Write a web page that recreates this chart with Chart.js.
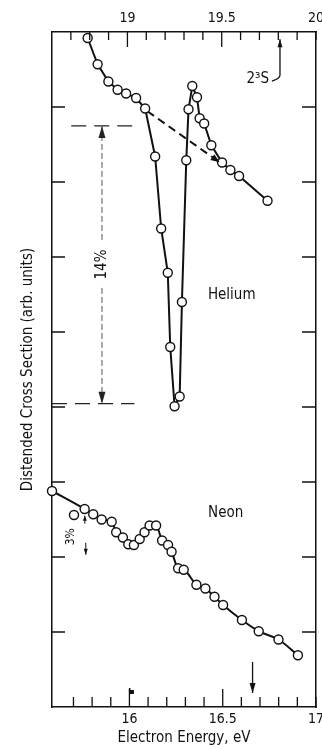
<!DOCTYPE html>
<html>
<head>
<meta charset="utf-8">
<script src="https://cdn.jsdelivr.net/npm/chart.js@4/dist/chart.umd.min.js"></script>
<style>
  html, body { margin: 0; padding: 0; background: #fff; }
  #wrap { width: 322px; height: 749px; }
</style>
</head>
<body>
<div id="wrap"><canvas id="chart" width="322" height="749"></canvas></div>
<script>
// helium
const heliumEnergy = [18.789, 18.842, 18.899, 18.948, 18.993, 19.046, 19.094, 19.147, 19.179, 19.214, 19.227, 19.250, 19.277, 19.289, 19.312, 19.324, 19.344, 19.369, 19.383, 19.407, 19.445, 19.502, 19.546, 19.592, 19.743];
const heliumSignal = [8.92, 8.57, 8.34, 8.23, 8.18, 8.12, 7.98, 7.34, 6.38, 5.79, 4.80, 4.01, 4.14, 5.40, 7.29, 7.97, 8.28, 8.13, 7.85, 7.78, 7.49, 7.26, 7.16, 7.08, 6.75];
// dashed background under the helium dip
const heliumBaseEnergy = [19.106, 19.489];
const heliumBaseSignal = [7.944, 7.263];

// neon
const neonEnergy = [15.585, 15.760, 15.806, 15.851, 15.905, 15.929, 15.965, 15.994, 16.024, 16.055, 16.081, 16.108, 16.143, 16.175, 16.207, 16.226, 16.261, 16.291, 16.359, 16.407, 16.456, 16.502, 16.603, 16.693, 16.799, 16.903];
const neonSignal = [2.88, 2.64, 2.57, 2.50, 2.47, 2.33, 2.26, 2.17, 2.16, 2.24, 2.33, 2.42, 2.42, 2.22, 2.16, 2.07, 1.85, 1.83, 1.63, 1.58, 1.47, 1.36, 1.16, 1.01, 0.90, 0.69];
const neonStrayEnergy = [15.703];
const neonStraySignal = [2.56];

// ticks
const topTickValues = [18.7, 18.8, 18.9, 19.0, 19.1, 19.2, 19.3, 19.4, 19.5, 19.6, 19.7, 19.8, 19.9, 20.0];
const topLabelValues = [19, 19.5, 20];
const topLabels = ['19', '19.5', '20'];
const bottomTickValues = [15.7, 15.8, 15.9, 16.0, 16.1, 16.2, 16.3, 16.4, 16.5, 16.6, 16.7, 16.8, 16.9, 17.0];
const bottomLabelValues = [16, 16.5, 17];
const bottomLabels = ['16', '16.5', '17'];
const yTickValues = [1, 2, 3, 4, 5, 6, 7, 8];

const ink = '#111';
const FONT = "'Liberation Sans Narrow', 'DejaVu Sans Condensed', 'Arial Narrow', sans-serif";
Chart.defaults.font.family = FONT;
Chart.defaults.color = ink;

function labelFor(values, labels, v) {
  const i = values.findIndex(t => Math.abs(t - v) < 1e-6);
  return i < 0 ? '' : labels[i];
}
function pts(xs, ys) {
  return xs.map((x, i) => ({ x: x, y: ys[i] }));
}

function head(ctx, x0, y0, x1, y1, len, w) {
  const a = Math.atan2(y1 - y0, x1 - x0);
  ctx.beginPath();
  ctx.moveTo(x1, y1);
  ctx.lineTo(x1 - len * Math.cos(a) + w * Math.sin(a), y1 - len * Math.sin(a) - w * Math.cos(a));
  ctx.lineTo(x1 - len * Math.cos(a) - w * Math.sin(a), y1 - len * Math.sin(a) + w * Math.cos(a));
  ctx.closePath();
  ctx.fill();
}

// inward tick marks on all four sides
const tickPlugin = {
  id: 'inwardTicks',
  afterDraw(chart) {
    const { ctx, chartArea: a, scales } = chart;
    ctx.save();
    ctx.strokeStyle = ink;
    ctx.lineWidth = 1.3;
    ctx.beginPath();
    bottomTickValues.forEach(v => {
      const x = scales.x.getPixelForValue(v);
      const len = (v === 16 || v === 16.5) ? 18 : 10;
      ctx.moveTo(x, a.bottom); ctx.lineTo(x, a.bottom - len);
    });
    topTickValues.forEach(v => {
      const x = scales.x2.getPixelForValue(v);
      const len = (v === 19 || v === 19.5) ? 15 : 8;
      ctx.moveTo(x, a.top); ctx.lineTo(x, a.top + len);
    });
    yTickValues.forEach(v => {
      const y = scales.y.getPixelForValue(v);
      ctx.moveTo(a.left, y); ctx.lineTo(a.left + 13, y);
      ctx.moveTo(a.right, y); ctx.lineTo(a.right - 14, y);
    });
    ctx.stroke();
    ctx.restore();
  }
};

// notes drawn in data coordinates
const notePlugin = {
  id: 'notes',
  beforeDatasetsDraw(chart) {
    const { ctx, scales } = chart;
    const P = (ax, xv, yv) => [scales[ax].getPixelForValue(xv), scales.y.getPixelForValue(yv)];
    ctx.save();
    ctx.strokeStyle = '#222';
    ctx.fillStyle = '#222';

    // 14% bracket
    ctx.lineWidth = 1.2;
    ctx.setLineDash([15, 8]);
    let p = P('x2', 18.702, 7.748), q = P('x2', 19.037, 7.748);
    ctx.beginPath(); ctx.moveTo(p[0], p[1]); ctx.lineTo(q[0], q[1]); ctx.stroke();
    p = P('x2', 18.6, 4.045); q = P('x2', 19.037, 4.045);
    ctx.beginPath(); ctx.moveTo(p[0], p[1]); ctx.lineTo(q[0], q[1]); ctx.stroke();
    const vt = P('x2', 18.865, 7.748), vb = P('x2', 18.865, 4.045);
    ctx.strokeStyle = '#555';
    ctx.lineWidth = 1;
    ctx.setLineDash([6, 3]);
    ctx.beginPath(); ctx.moveTo(vt[0], vt[1]); ctx.lineTo(vb[0], vb[1]); ctx.stroke();
    ctx.setLineDash([]);
    head(ctx, vt[0], vt[1] + 20, vt[0], vt[1], 12, 3.5);
    head(ctx, vb[0], vb[1] - 20, vb[0], vb[1], 12, 3.5);
    const tp = P('x2', 18.865, 5.90);
    ctx.fillStyle = '#fff';
    ctx.fillRect(tp[0] - 6, tp[1] - 22, 12, 44);
    ctx.fillStyle = ink;
    ctx.font = '15px ' + FONT;
    ctx.textAlign = 'center';
    ctx.textBaseline = 'middle';
    ctx.save();
    ctx.translate(tp[0], tp[1]);
    ctx.rotate(-Math.PI / 2);
    ctx.fillText('14%', 0, 0);
    ctx.restore();

    // labels
    p = P('x2', 19.553, 5.487); ctx.fillText('Helium', p[0], p[1]);
    p = P('x', 16.516, 2.59); ctx.fillText('Neon', p[0], p[1]);
    p = P('x2', 19.691, 8.371); ctx.fillText('2³S', p[0], p[1]);

    // 2³S hooked arrow
    ctx.strokeStyle = ink;
    ctx.lineWidth = 1.3;
    const h0 = P('x2', 19.766, 8.344), h1 = P('x2', 19.809, 8.425), h2 = P('x2', 19.809, 8.905);
    ctx.beginPath();
    ctx.moveTo(h0[0], h0[1]);
    ctx.quadraticCurveTo(h1[0], h1[1] + 3, h1[0], h1[1]);
    ctx.lineTo(h2[0], h2[1]);
    ctx.stroke();
    head(ctx, h2[0], h2[1] + 10, h2[0], h2[1], 8, 2.5);

    // neon 3% marks
    p = P('x', 15.687, 2.27);
    ctx.save();
    ctx.font = '12px ' + FONT;
    ctx.translate(p[0], p[1]);
    ctx.rotate(-Math.PI / 2);
    ctx.fillText('3%', 0, 0);
    ctx.restore();
    ctx.lineWidth = 1;
    let a0 = P('x', 15.761, 2.443), a1 = P('x', 15.761, 2.55);
    ctx.beginPath(); ctx.moveTo(a0[0], a0[1]); ctx.lineTo(a1[0], a1[1]); ctx.stroke();
    head(ctx, a0[0], a0[1], a1[0], a1[1], 5, 2);
    a0 = P('x', 15.766, 2.19); a1 = P('x', 15.766, 2.03);
    ctx.beginPath(); ctx.moveTo(a0[0], a0[1]); ctx.lineTo(a1[0], a1[1]); ctx.stroke();
    head(ctx, a0[0], a0[1], a1[0], a1[1], 6, 2);

    // neon threshold arrow and small flag
    ctx.lineWidth = 1.3;
    a0 = P('x', 16.66, 0.601); a1 = P('x', 16.66, 0.187);
    ctx.beginPath(); ctx.moveTo(a0[0], a0[1]); ctx.lineTo(a1[0], a1[1]); ctx.stroke();
    head(ctx, a0[0], a0[1], a1[0], a1[1], 10, 3);
    p = P('x', 16.008, 0.2);
    ctx.fillRect(p[0] - 1, p[1] - 2, 4, 4);
    ctx.fillRect(p[0] - 2, p[1] - 4, 1.5, 4);

    ctx.restore();
  },
  afterDatasetsDraw(chart) {
    // arrow head at the end of the dashed helium background
    const meta = chart.getDatasetMeta(0);
    const n = meta.data.length;
    if (n < 2) return;
    const a = meta.data[n - 2], b = meta.data[n - 1];
    chart.ctx.save();
    chart.ctx.fillStyle = ink;
    head(chart.ctx, a.x, a.y, b.x, b.y, 9, 3.5);
    chart.ctx.restore();
  }
};

const circle = {
  pointRadius: 4.5,
  pointBackgroundColor: '#fff',
  pointBorderColor: ink,
  pointBorderWidth: 1.4
};

new Chart(document.getElementById('chart'), {
  type: 'line',
  data: {
    datasets: [
      {
        data: pts(heliumBaseEnergy, heliumBaseSignal),
        xAxisID: 'x2', yAxisID: 'y',
        borderColor: ink, borderWidth: 2, borderDash: [8, 5],
        pointRadius: 0, order: 2, clip: false
      },
      Object.assign({
        data: pts(heliumEnergy, heliumSignal),
        xAxisID: 'x2', yAxisID: 'y',
        borderColor: ink, borderWidth: 2, tension: 0, order: 0, clip: false
      }, circle),
      Object.assign({
        data: pts(neonEnergy, neonSignal),
        xAxisID: 'x', yAxisID: 'y',
        borderColor: ink, borderWidth: 2, cubicInterpolationMode: 'monotone', order: 0, clip: false
      }, circle),
      Object.assign({
        data: pts(neonStrayEnergy, neonStraySignal),
        xAxisID: 'x', yAxisID: 'y',
        showLine: false, order: 0, clip: false
      }, circle)
    ]
  },
  options: {
    responsive: false,
    animation: false,
    events: [],
    layout: { padding: 0 },
    plugins: { legend: { display: false }, tooltip: { enabled: false } },
    scales: {
      x: {
        type: 'linear', position: 'bottom', min: 15.585, max: 17.0,
        afterBuildTicks: s => { s.ticks = bottomTickValues.map(v => ({ value: v })); },
        afterFit: s => { s.height = 42; s.paddingLeft = 0; s.paddingRight = 0; },
        ticks: { autoSkip: false, maxRotation: 0, padding: 4, font: { size: 14 }, color: ink,
                 callback: v => labelFor(bottomLabelValues, bottomLabels, v) },
        grid: { display: true, drawOnChartArea: false, drawTicks: false },
        border: { display: true, color: ink, width: 1.5 },
        title: { display: true, text: 'Electron Energy, eV', font: { size: 15 }, color: ink, padding: { top: 0, bottom: 2 } }
      },
      x2: {
        type: 'linear', position: 'top', min: 18.6, max: 20.0,
        afterBuildTicks: s => { s.ticks = topTickValues.map(v => ({ value: v })); },
        afterFit: s => { s.height = 32; s.paddingLeft = 0; s.paddingRight = 0; },
        ticks: { autoSkip: false, maxRotation: 0, padding: 5, font: { size: 14 }, color: ink,
                 callback: v => labelFor(topLabelValues, topLabels, v) },
        grid: { display: true, drawOnChartArea: false, drawTicks: false },
        border: { display: true, color: ink, width: 1.5 }
      },
      y: {
        type: 'linear', position: 'left', min: 0, max: 9,
        afterBuildTicks: s => { s.ticks = yTickValues.map(v => ({ value: v })); },
        afterFit: s => { s.width = 52; s.paddingTop = 0; s.paddingBottom = 0; },
        ticks: { display: false },
        grid: { display: true, drawOnChartArea: false, drawTicks: false },
        border: { display: true, color: ink, width: 1.5 },
        title: { display: true, text: 'Distended Cross Section (arb. units)', font: { size: 15 }, color: ink, padding: { top: 19, bottom: 0 } }
      },
      y2: {
        type: 'linear', position: 'right', min: 0, max: 9,
        afterFit: s => { s.width = 6; s.paddingTop = 0; s.paddingBottom = 0; },
        ticks: { display: false },
        grid: { display: true, drawOnChartArea: false, drawTicks: false },
        border: { display: true, color: ink, width: 1.5 }
      }
    }
  },
  plugins: [notePlugin, tickPlugin]
});
</script>
</body>
</html>
